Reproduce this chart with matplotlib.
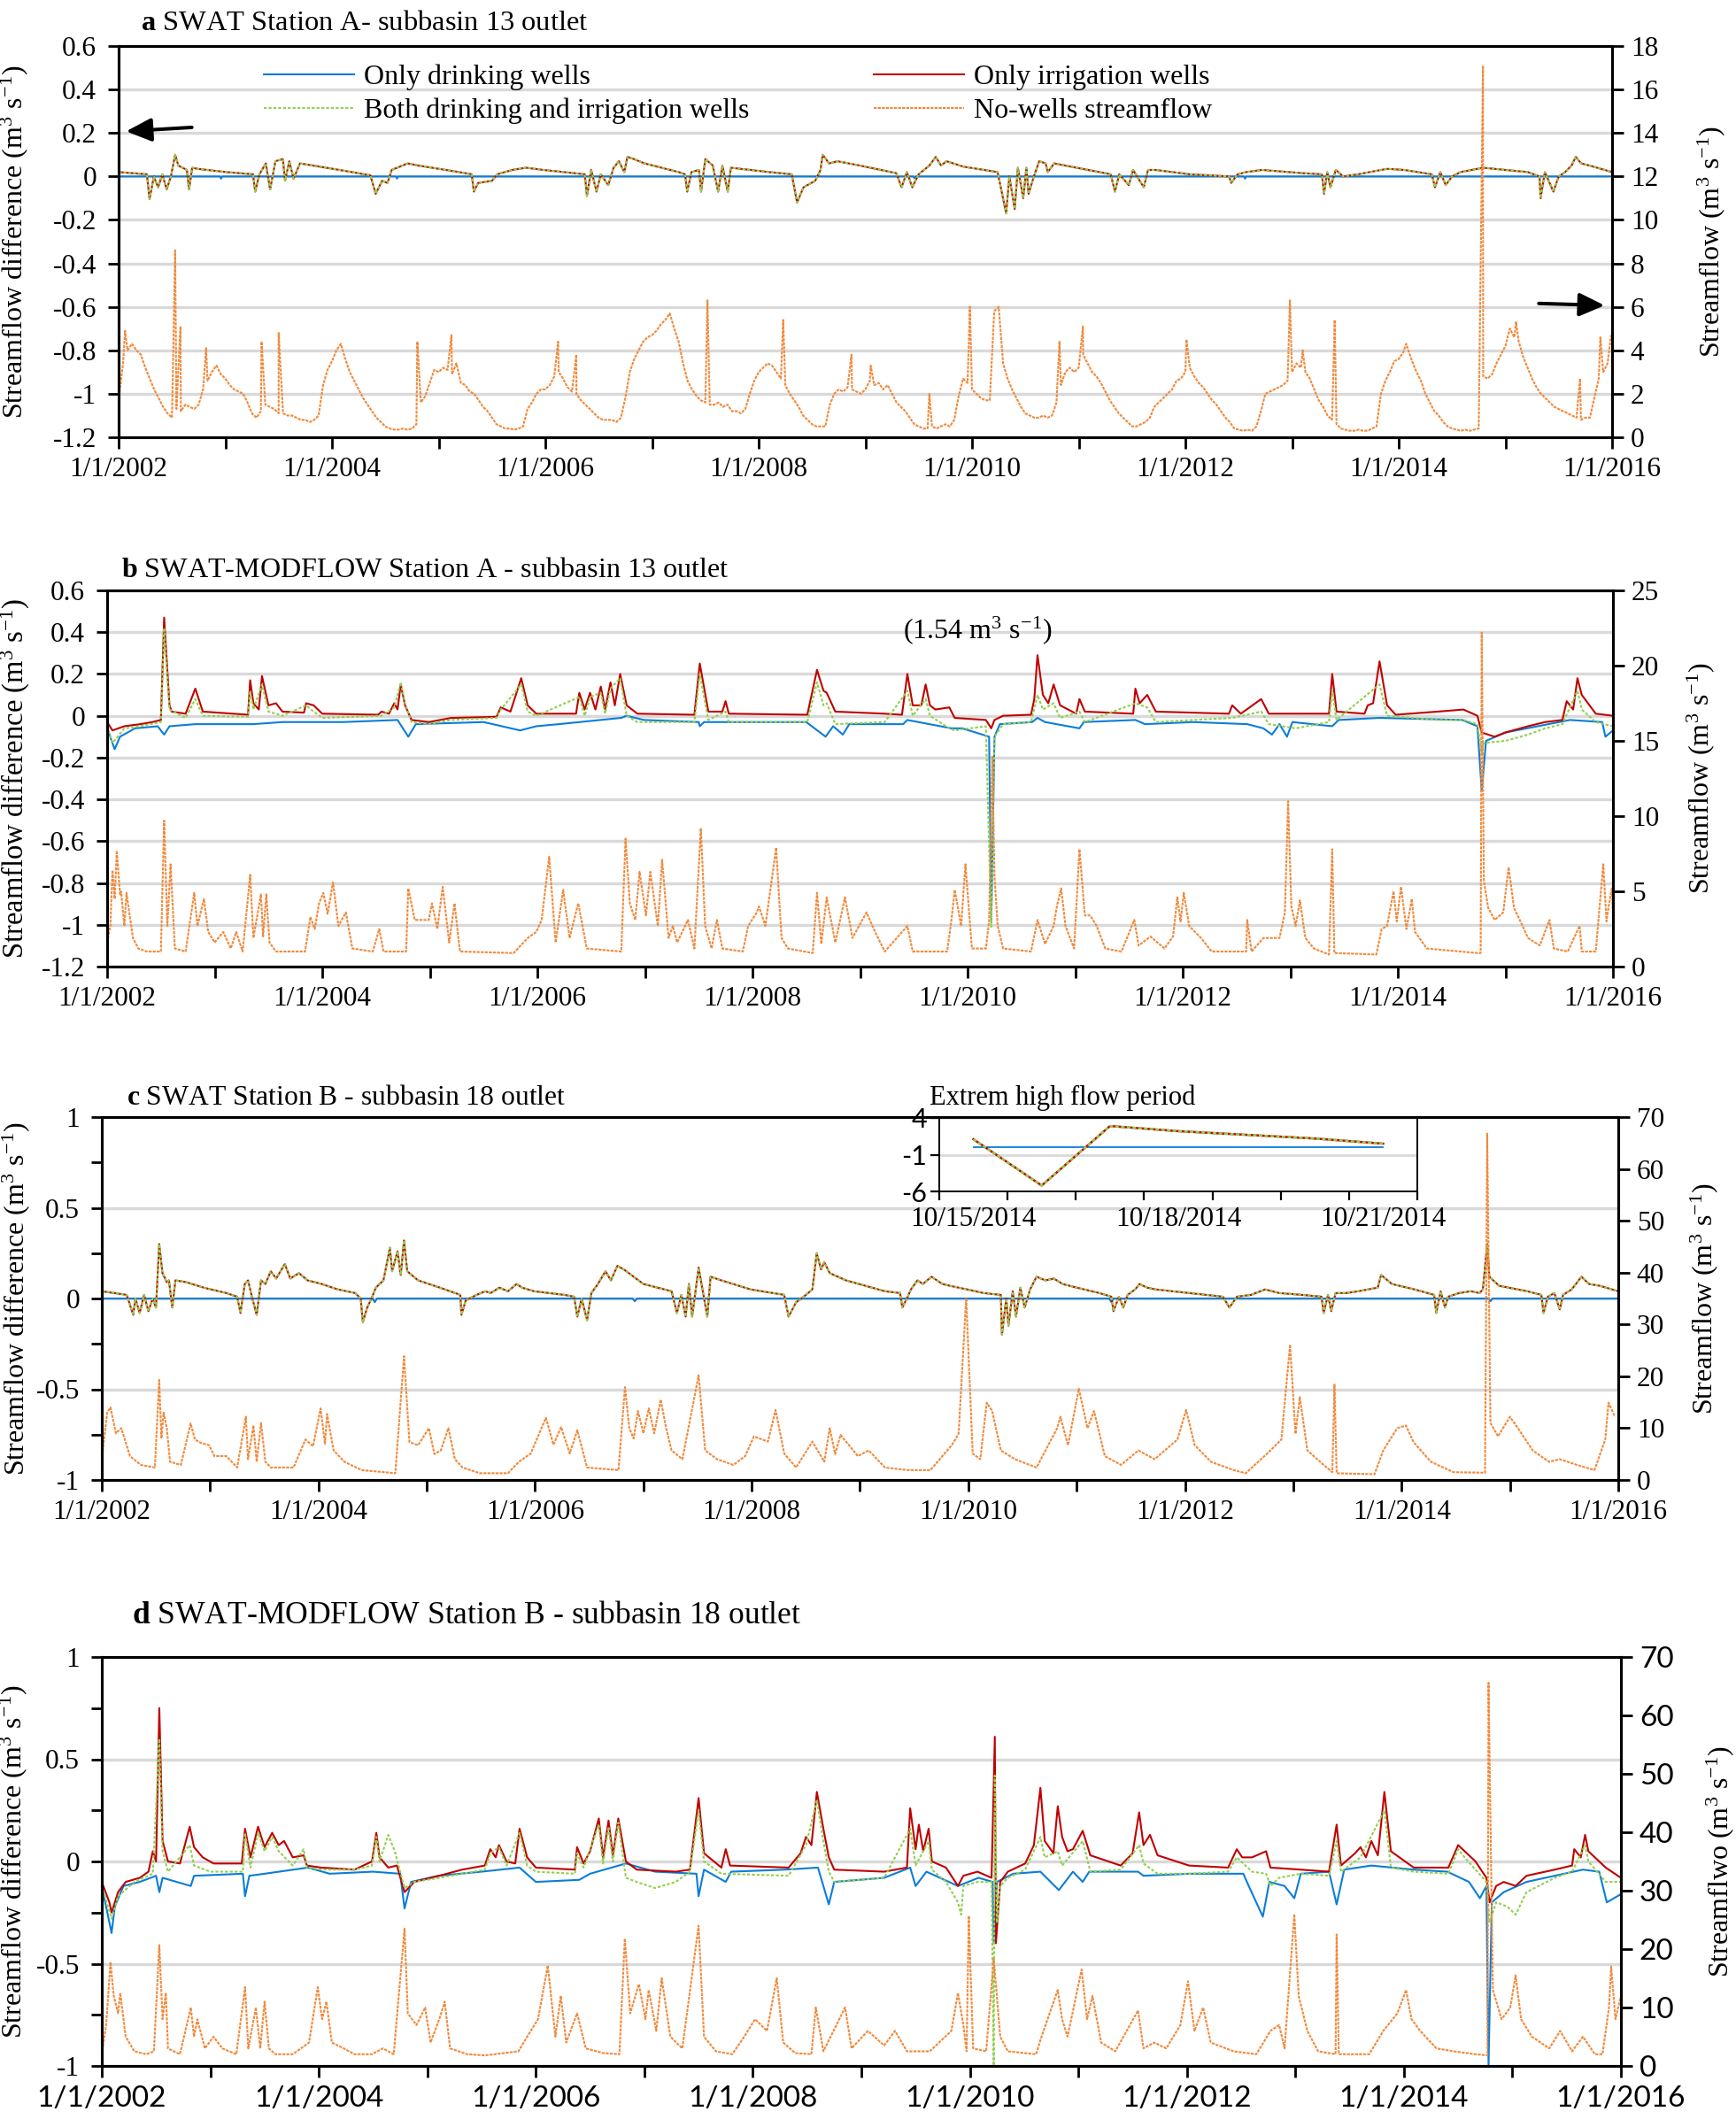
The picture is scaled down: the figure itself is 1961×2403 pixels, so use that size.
#!/usr/bin/env python3
# Streamflow differences caused by pumping wells, SWAT vs SWAT-MODFLOW, stations A and B
import numpy as np
import matplotlib
matplotlib.use('Agg')
from matplotlib import pyplot as plt
from matplotlib.ticker import MultipleLocator, FuncFormatter, FixedLocator, NullFormatter

SERIF = 'Liberation Serif'
SANS = 'Lato'
plt.rcParams['font.family'] = [SERIF, 'DejaVu Serif']
plt.rcParams['mathtext.fontset'] = 'custom'
plt.rcParams['mathtext.rm'] = SERIF
plt.rcParams['mathtext.it'] = SERIF + ':italic'
plt.rcParams['mathtext.bf'] = SERIF + ':bold'
plt.rcParams['axes.unicode_minus'] = False

C_DRINK = '#0B7DD8'
C_IRR = '#C00000'
C_BOTH = '#92D050'
C_FLOW = '#F08A3C'
GRID = '#D9D9D9'

labels = ['Only drinking wells', 'Both drinking and irrigation wells',
          'Only irrigation wells', 'No-wells streamflow']

# ---------------- panel a : SWAT station A ----------------
# no-wells streamflow, two values per month (1st and 16th), 2002..2015
flow_a_semimonthly = [
    1.7, 3.4, 4.0, 4.3, 4.0, 3.8, 3.2, 2.7, 2.2, 1.8, 1.4, 1.1, 0.9, 1.3, 1.2, 1.5, 1.4, 1.3, 1.5, 2.2, 2.6, 3.0, 3.3, 2.9,
    2.7, 2.4, 2.2, 2.1, 2.0, 1.6, 1.1, 0.9, 1.2, 1.5, 1.4, 1.3, 1.1, 1.1, 1.0, 1.0, 0.9, 0.8, 0.8, 0.7, 0.8, 1.0, 2.4, 3.1,
    3.5, 4.0, 4.3, 3.6, 3.0, 2.6, 2.2, 1.8, 1.5, 1.2, 0.9, 0.7, 0.5, 0.4, 0.35, 0.35, 0.4, 0.35, 0.4, 0.6, 1.6, 1.9, 2.5, 3.1,
    3.0, 3.2, 3.1, 2.9, 3.4, 2.5, 2.4, 2.1, 2.0, 1.7, 1.4, 1.2, 0.9, 0.6, 0.5, 0.4, 0.4, 0.35, 0.4, 0.5, 1.3, 1.6, 2.0, 2.2,
    2.2, 2.4, 2.8, 3.0, 2.7, 2.3, 2.1, 2.0, 1.7, 1.5, 1.3, 1.1, 0.9, 0.8, 0.8, 0.8, 0.7, 0.9, 1.8, 3.0, 3.6, 4.0, 4.4, 4.6,
    4.7, 4.9, 5.2, 5.4, 5.7, 5.0, 4.4, 3.4, 2.6, 2.2, 1.9, 1.7, 1.6, 1.5, 1.5, 1.6, 1.4, 1.5, 1.2, 1.2, 1.1, 1.3, 2.0, 2.6,
    3.0, 3.2, 3.4, 3.3, 3.0, 2.7, 2.4, 2.0, 1.7, 1.4, 1.0, 0.8, 0.6, 0.5, 0.5, 0.5, 1.5, 2.0, 2.2, 2.1, 2.3, 2.2, 2.1, 2.0,
    2.2, 2.6, 2.4, 2.5, 2.2, 2.4, 2.0, 1.6, 1.4, 1.2, 0.9, 0.6, 0.5, 0.4, 0.4, 0.5, 0.4, 0.5, 0.6, 0.5, 0.8, 1.9, 2.7, 2.5,
    2.2, 2.0, 1.8, 1.7, 1.7, 5.8, 6.0, 3.4, 2.7, 2.2, 1.8, 1.4, 1.1, 1.0, 0.9, 0.9, 1.0, 0.9, 1.0, 1.6, 2.4, 3.0, 3.2, 3.0,
    3.2, 3.8, 3.4, 3.0, 2.8, 2.5, 2.1, 1.7, 1.4, 1.1, 0.9, 0.7, 0.5, 0.5, 0.6, 0.7, 0.9, 1.4, 1.6, 1.8, 2.0, 2.2, 2.6, 2.7,
    3.0, 3.2, 2.8, 2.5, 2.3, 2.0, 1.7, 1.5, 1.2, 0.9, 0.7, 0.4, 0.35, 0.3, 0.35, 0.3, 0.5, 1.2, 2.0, 2.1, 2.2, 2.3, 2.4, 2.6,
    3.0, 3.4, 3.2, 3.0, 2.7, 2.2, 1.7, 1.4, 1.0, 0.8, 0.6, 0.4, 0.35, 0.3, 0.3, 0.35, 0.3, 0.3, 0.4, 0.5, 2.0, 2.6, 3.0, 3.5,
    3.6, 3.9, 4.1, 3.5, 3.0, 2.6, 2.0, 1.6, 1.2, 1.0, 0.7, 0.5, 0.4, 0.35, 0.3, 0.35, 0.3, 0.35, 0.4, 2.8, 2.7, 2.9, 3.4, 3.8,
    4.2, 5.0, 4.6, 4.4, 3.7, 3.2, 2.7, 2.3, 2.0, 1.8, 1.6, 1.4, 1.3, 1.2, 1.1, 1.0, 0.9, 0.8, 0.9, 0.9, 1.8, 2.7, 3.0, 3.4,
]
flow_a_peaks = [
    (2002.06, 4.9), (2002.53, 8.6), (2002.58, 5.1), (2002.82, 4.1), (2003.34, 4.4), (2003.50, 4.8),
    (2004.80, 4.4), (2005.12, 4.7), (2006.12, 4.4), (2006.29, 3.8), (2007.52, 6.3), (2008.23, 5.4),
    (2008.87, 3.8), (2009.05, 3.3), (2009.60, 2.0), (2009.98, 6.0), (2010.82, 4.4), (2011.04, 5.1),
    (2012.01, 4.5), (2012.98, 6.3), (2013.10, 4.0), (2013.40, 5.4), (2014.07, 4.3), (2014.79, 17.1),
    (2015.10, 5.3), (2015.70, 2.7), (2015.89, 4.6), (2015.99, 4.7),
]
irr_a = [
    (2002.00, 0.02), (2002.265, 0.01), (2002.29, -0.105), (2002.33, 0.0), (2002.37, -0.05), (2002.41, 0.01),
    (2002.45, -0.06), (2002.49, 0.0), (2002.53, 0.1), (2002.56, 0.05), (2002.64, 0.03), (2002.66, -0.06),
    (2002.69, 0.04), (2002.74, 0.035), (2003.01, 0.02), (2003.26, 0.01), (2003.28, -0.07), (2003.32, 0.01),
    (2003.38, 0.06), (2003.42, -0.06), (2003.47, 0.07), (2003.54, 0.08), (2003.56, -0.02), (2003.60, 0.07),
    (2003.64, -0.01), (2003.70, 0.06), (2004.07, 0.03), (2004.36, 0.005), (2004.41, -0.08), (2004.47, -0.02),
    (2004.52, -0.03), (2004.56, 0.03), (2004.71, 0.06), (2004.81, 0.05), (2005.13, 0.025), (2005.31, 0.01),
    (2005.33, -0.07), (2005.37, -0.03), (2005.50, -0.02), (2005.55, 0.01), (2005.69, 0.03), (2005.82, 0.04),
    (2005.98, 0.03), (2006.37, 0.01), (2006.39, -0.09), (2006.43, 0.03), (2006.48, -0.07), (2006.52, 0.01),
    (2006.59, -0.04), (2006.64, 0.04), (2006.69, 0.07), (2006.74, 0.02), (2006.77, 0.09), (2006.83, 0.08),
    (2006.93, 0.06), (2007.25, 0.02), (2007.31, 0.01), (2007.33, -0.07), (2007.37, 0.02), (2007.44, 0.03),
    (2007.46, -0.07), (2007.50, 0.08), (2007.57, 0.05), (2007.62, -0.07), (2007.66, 0.05), (2007.71, -0.07),
    (2007.74, 0.04), (2008.10, 0.02), (2008.31, 0.01), (2008.36, -0.12), (2008.42, -0.05), (2008.53, -0.02),
    (2008.58, 0.03), (2008.60, 0.1), (2008.66, 0.06), (2008.74, 0.07), (2008.95, 0.05), (2009.29, 0.015),
    (2009.34, -0.05), (2009.39, 0.02), (2009.44, -0.05), (2009.50, 0.01), (2009.60, 0.05), (2009.66, 0.09),
    (2009.71, 0.05), (2009.76, 0.07), (2009.92, 0.045), (2010.24, 0.02), (2010.32, -0.17), (2010.35, 0.0),
    (2010.40, -0.15), (2010.43, 0.04), (2010.48, -0.1), (2010.51, 0.04), (2010.53, -0.08), (2010.58, 0.0),
    (2010.63, 0.07), (2010.69, 0.06), (2010.71, 0.02), (2010.77, 0.06), (2010.98, 0.04), (2011.30, 0.01),
    (2011.34, -0.07), (2011.38, 0.01), (2011.47, -0.04), (2011.51, 0.03), (2011.61, -0.05), (2011.65, 0.03),
    (2011.72, 0.03), (2012.04, 0.01), (2012.41, 0.0), (2012.43, -0.03), (2012.49, 0.01), (2012.57, 0.02),
    (2012.72, 0.03), (2013.10, 0.015), (2013.28, 0.01), (2013.30, -0.08), (2013.33, 0.02), (2013.36, -0.05),
    (2013.41, 0.03), (2013.48, 0.0), (2013.62, 0.01), (2013.89, 0.035), (2014.05, 0.03), (2014.31, 0.01),
    (2014.34, -0.05), (2014.39, 0.02), (2014.44, -0.04), (2014.50, 0.0), (2014.58, 0.02), (2014.79, 0.04),
    (2015.21, 0.02), (2015.32, 0.0), (2015.33, -0.1), (2015.37, 0.02), (2015.45, -0.07), (2015.50, 0.0),
    (2015.56, 0.02), (2015.62, 0.05), (2015.66, 0.09), (2015.71, 0.06), (2015.79, 0.05), (2016.00, 0.02),
]
both_a = irr_a  # the two SWAT curves lie on top of each other
drink_a = [(2002.0, 0.0), (2002.95, 0.0), (2002.96, -0.01), (2002.97, 0.0), (2004.60, 0.0), (2004.61, -0.01),
           (2004.62, 0.0), (2009.45, 0.0), (2009.46, -0.008), (2009.47, 0.0), (2012.55, 0.0), (2012.56, -0.01),
           (2012.57, 0.0), (2016.0, 0.0)]

# ---------------- panel b : SWAT-MODFLOW station A ----------------
flow_b = [
    (2002.00, 1.6), (2002.03, 2.7), (2002.05, 6.4), (2002.07, 4.5), (2002.09, 7.7), (2002.12, 4.8), (2002.13, 5.0),
    (2002.16, 2.7), (2002.18, 4.9), (2002.24, 1.9), (2002.29, 1.2), (2002.37, 1.0), (2002.50, 1.0), (2002.53, 9.7),
    (2002.56, 2.7), (2002.59, 6.8), (2002.63, 1.2), (2002.73, 1.0), (2002.81, 4.9), (2002.84, 2.7), (2002.90, 4.5),
    (2002.94, 2.3), (2003.00, 1.6), (2003.08, 2.3), (2003.15, 1.2), (2003.20, 2.3), (2003.26, 1.0), (2003.33, 6.1),
    (2003.36, 1.9), (2003.43, 4.8), (2003.45, 2.0), (2003.48, 4.8), (2003.51, 1.6), (2003.57, 1.0), (2003.84, 1.0),
    (2003.89, 3.3), (2003.93, 2.5), (2003.97, 4.2), (2004.01, 4.9), (2004.05, 3.5), (2004.10, 5.6), (2004.15, 2.7),
    (2004.22, 3.6), (2004.28, 1.2), (2004.47, 1.0), (2004.53, 2.5), (2004.57, 1.0), (2004.78, 1.0), (2004.80, 5.2),
    (2004.86, 3.1), (2004.99, 3.1), (2005.02, 4.2), (2005.07, 2.5), (2005.12, 5.3), (2005.18, 1.6), (2005.23, 4.2),
    (2005.28, 1.0), (2005.78, 0.9), (2005.91, 1.9), (2005.99, 2.3), (2006.04, 3.1), (2006.11, 7.3), (2006.17, 1.6),
    (2006.24, 5.1), (2006.30, 1.9), (2006.38, 4.2), (2006.46, 1.2), (2006.78, 1.0), (2006.82, 8.5), (2006.86, 4.2),
    (2006.91, 3.1), (2006.95, 6.3), (2007.01, 3.4), (2007.05, 6.3), (2007.12, 2.7), (2007.16, 7.1), (2007.22, 1.9),
    (2007.26, 2.7), (2007.30, 1.6), (2007.40, 3.1), (2007.46, 1.2), (2007.52, 9.2), (2007.56, 2.7), (2007.62, 1.2),
    (2007.67, 3.1), (2007.72, 1.2), (2007.91, 1.0), (2007.96, 2.7), (2008.04, 3.6), (2008.06, 4.0), (2008.12, 2.7),
    (2008.22, 7.9), (2008.27, 1.9), (2008.33, 1.2), (2008.56, 0.9), (2008.60, 4.9), (2008.64, 1.5), (2008.69, 4.6),
    (2008.77, 1.6), (2008.86, 4.6), (2008.93, 1.9), (2009.06, 3.6), (2009.14, 2.3), (2009.23, 1.0), (2009.44, 2.7),
    (2009.49, 1.0), (2009.81, 1.0), (2009.85, 3.1), (2009.88, 5.1), (2009.94, 2.7), (2009.98, 6.8), (2010.04, 1.2),
    (2010.17, 1.2), (2010.20, 3.0), (2010.23, 14.0), (2010.25, 6.0), (2010.28, 2.7), (2010.33, 1.2), (2010.59, 1.0),
    (2010.65, 3.1), (2010.72, 1.5), (2010.80, 2.7), (2010.83, 4.0), (2010.87, 5.2), (2010.91, 2.7), (2010.99, 1.2),
    (2011.04, 7.8), (2011.09, 3.4), (2011.14, 3.4), (2011.20, 2.7), (2011.28, 1.2), (2011.43, 1.0), (2011.55, 3.1),
    (2011.59, 1.4), (2011.70, 2.0), (2011.83, 1.2), (2011.91, 2.0), (2011.95, 4.6), (2011.98, 3.0), (2012.01, 4.9),
    (2012.06, 2.7), (2012.17, 1.9), (2012.27, 1.0), (2012.59, 1.0), (2012.60, 3.1), (2012.64, 1.0), (2012.75, 1.9),
    (2012.90, 1.9), (2012.95, 3.6), (2012.98, 11.0), (2013.01, 4.0), (2013.05, 2.7), (2013.09, 4.4), (2013.14, 1.9),
    (2013.22, 1.2), (2013.36, 0.8), (2013.39, 7.8), (2013.41, 0.9), (2013.80, 0.8), (2013.85, 2.5), (2013.90, 2.7),
    (2013.96, 5.0), (2013.99, 3.0), (2014.03, 5.3), (2014.08, 2.5), (2014.13, 4.5), (2014.16, 2.3), (2014.27, 1.2),
    (2014.74, 0.9), (2014.77, 0.9), (2014.78, 22.2), (2014.80, 5.7), (2014.84, 3.9), (2014.90, 3.1), (2014.98, 3.6),
    (2015.03, 6.6), (2015.08, 3.9), (2015.16, 2.7), (2015.21, 1.9), (2015.32, 1.4), (2015.41, 3.1), (2015.45, 1.2),
    (2015.58, 1.0), (2015.69, 2.7), (2015.71, 1.0), (2015.84, 1.0), (2015.91, 6.8), (2015.94, 3.0), (2015.96, 4.0),
    (2015.99, 5.2), (2016.00, 3.5),
]
irr_b = [
    (2002.00, -0.03), (2002.05, -0.07), (2002.16, -0.05), (2002.31, -0.04), (2002.42, -0.03), (2002.50, -0.02),
    (2002.53, 0.47), (2002.58, 0.05), (2002.60, 0.02), (2002.73, 0.01), (2002.82, 0.13), (2002.89, 0.02),
    (2003.31, 0.005), (2003.33, 0.17), (2003.36, 0.06), (2003.41, 0.03), (2003.44, 0.19), (2003.50, 0.05),
    (2003.57, 0.06), (2003.63, 0.02), (2003.83, 0.015), (2003.85, 0.06), (2003.92, 0.05), (2004.00, 0.01),
    (2004.52, 0.005), (2004.55, 0.02), (2004.62, 0.01), (2004.67, 0.06), (2004.70, 0.03), (2004.73, 0.15),
    (2004.77, 0.05), (2004.83, -0.02), (2004.99, -0.03), (2005.20, -0.01), (2005.62, -0.005), (2005.66, 0.04),
    (2005.75, 0.02), (2005.85, 0.18), (2005.91, 0.05), (2005.99, 0.01), (2006.36, 0.01), (2006.39, 0.11),
    (2006.44, 0.03), (2006.49, 0.11), (2006.54, 0.03), (2006.59, 0.14), (2006.63, 0.03), (2006.68, 0.16),
    (2006.72, 0.05), (2006.77, 0.2), (2006.83, 0.05), (2006.93, 0.01), (2007.46, 0.005), (2007.51, 0.25),
    (2007.59, 0.02), (2007.72, 0.02), (2007.75, 0.07), (2007.78, 0.01), (2008.51, 0.005), (2008.60, 0.22),
    (2008.66, 0.12), (2008.69, 0.11), (2008.77, 0.02), (2009.23, 0.01), (2009.39, 0.005), (2009.44, 0.2),
    (2009.49, 0.05), (2009.57, 0.05), (2009.61, 0.15), (2009.65, 0.05), (2009.70, 0.03), (2009.83, 0.04),
    (2009.88, -0.01), (2010.17, -0.02), (2010.22, -0.06), (2010.25, -0.02), (2010.33, 0.0), (2010.59, 0.005),
    (2010.62, 0.08), (2010.65, 0.29), (2010.70, 0.1), (2010.75, 0.06), (2010.80, 0.15), (2010.86, 0.05),
    (2011.01, 0.01), (2011.04, 0.08), (2011.09, 0.02), (2011.54, 0.01), (2011.56, 0.13), (2011.60, 0.06),
    (2011.67, 0.1), (2011.75, 0.02), (2012.43, 0.01), (2012.46, 0.05), (2012.54, 0.01), (2012.73, 0.08),
    (2012.80, 0.01), (2013.36, 0.01), (2013.39, 0.2), (2013.43, 0.02), (2013.69, 0.01), (2013.72, 0.05),
    (2013.77, 0.06), (2013.83, 0.26), (2013.90, 0.05), (2013.98, 0.005), (2014.37, 0.02), (2014.61, 0.03),
    (2014.74, 0.0), (2014.78, -0.08), (2014.90, -0.1), (2015.00, -0.08), (2015.21, -0.05), (2015.37, -0.03),
    (2015.53, -0.02), (2015.57, 0.07), (2015.63, 0.03), (2015.67, 0.18), (2015.71, 0.1), (2015.84, 0.01),
    (2016.00, 0.0),
]
both_b = [
    (2002.00, -0.05), (2002.05, -0.13), (2002.16, -0.06), (2002.31, -0.05), (2002.50, -0.03), (2002.53, 0.42),
    (2002.58, 0.03), (2002.73, -0.01), (2002.82, 0.08), (2002.89, 0.0), (2003.31, -0.005), (2003.33, 0.12),
    (2003.36, 0.03), (2003.44, 0.15), (2003.50, 0.02), (2003.63, 0.0), (2003.85, 0.05), (2003.92, 0.02),
    (2004.00, -0.01), (2004.55, 0.0), (2004.67, 0.04), (2004.73, 0.16), (2004.77, 0.06), (2004.83, -0.03),
    (2004.99, -0.04), (2005.20, -0.02), (2005.62, -0.01), (2005.66, 0.03), (2005.85, 0.15), (2005.91, 0.02),
    (2005.99, 0.0), (2006.39, 0.09), (2006.44, 0.0), (2006.49, 0.09), (2006.59, 0.11), (2006.63, 0.01),
    (2006.68, 0.13), (2006.77, 0.18), (2006.83, 0.0), (2006.93, -0.03), (2007.46, -0.03), (2007.51, 0.2),
    (2007.59, -0.02), (2007.75, 0.02), (2007.78, -0.03), (2008.51, -0.03), (2008.60, 0.16), (2008.66, 0.05),
    (2008.69, 0.06), (2008.77, -0.04), (2009.23, -0.03), (2009.44, 0.12), (2009.49, 0.0), (2009.61, 0.08),
    (2009.65, 0.0), (2009.83, -0.06), (2009.88, -0.07), (2010.17, -0.05), (2010.22, -1.01), (2010.25, -0.1),
    (2010.33, -0.04), (2010.59, -0.03), (2010.65, 0.1), (2010.70, 0.03), (2010.80, 0.06), (2010.86, -0.01),
    (2011.04, 0.02), (2011.09, -0.03), (2011.56, 0.06), (2011.67, 0.04), (2011.75, -0.03), (2012.46, -0.01),
    (2012.73, 0.02), (2012.80, -0.04), (2013.05, -0.06), (2013.36, -0.03), (2013.39, 0.12), (2013.43, -0.02),
    (2013.83, 0.15), (2013.90, 0.0), (2014.37, -0.02), (2014.61, -0.02), (2014.74, -0.04), (2014.78, -0.18),
    (2014.80, -0.13), (2015.00, -0.12), (2015.21, -0.09), (2015.37, -0.06), (2015.53, -0.04), (2015.67, 0.12),
    (2015.71, 0.03), (2015.84, -0.03), (2016.00, -0.05),
]
drink_b = [
    (2002.00, -0.06), (2002.07, -0.16), (2002.12, -0.1), (2002.26, -0.06), (2002.47, -0.05), (2002.53, -0.09),
    (2002.58, -0.05), (2002.82, -0.04), (2003.36, -0.04), (2003.63, -0.03), (2004.20, -0.03), (2004.70, -0.02),
    (2004.80, -0.1), (2004.87, -0.04), (2005.50, -0.03), (2005.84, -0.07), (2005.99, -0.05), (2006.20, -0.04),
    (2006.78, -0.01), (2006.83, 0.0), (2006.99, -0.02), (2007.50, -0.03), (2007.51, -0.05), (2007.55, -0.03),
    (2008.50, -0.03), (2008.68, -0.1), (2008.75, -0.05), (2008.84, -0.09), (2008.90, -0.04), (2009.40, -0.04),
    (2009.44, -0.02), (2009.85, -0.06), (2009.95, -0.06), (2010.20, -0.1), (2010.22, -0.98), (2010.25, -0.1),
    (2010.30, -0.04), (2010.60, -0.03), (2010.65, -0.01), (2010.72, -0.03), (2011.04, -0.06), (2011.08, -0.03),
    (2011.56, -0.02), (2011.65, -0.04), (2012.10, -0.03), (2012.60, -0.04), (2012.75, -0.06), (2012.83, -0.09),
    (2012.90, -0.04), (2012.97, -0.1), (2013.02, -0.03), (2013.39, -0.05), (2013.45, -0.02), (2013.83, -0.01),
    (2014.60, -0.02), (2014.74, -0.05), (2014.78, -0.36), (2014.82, -0.12), (2015.00, -0.08), (2015.30, -0.05),
    (2015.60, -0.02), (2015.90, -0.03), (2015.93, -0.1), (2016.00, -0.07),
]

# ---------------- panel c : SWAT station B ----------------
flow_c = [
    (2002.00, 4.0), (2002.05, 13.0), (2002.08, 14.0), (2002.13, 9.0), (2002.18, 10.0), (2002.26, 4.6),
    (2002.36, 2.9), (2002.49, 2.4), (2002.53, 19.3), (2002.55, 8.0), (2002.57, 13.0), (2002.60, 10.0),
    (2002.63, 3.5), (2002.73, 2.9), (2002.82, 10.9), (2002.86, 7.8), (2002.91, 7.2), (2002.99, 6.7),
    (2003.04, 4.6), (2003.15, 4.6), (2003.25, 2.4), (2003.33, 12.2), (2003.35, 4.0), (2003.40, 10.5),
    (2003.43, 3.5), (2003.47, 11.0), (2003.51, 3.5), (2003.56, 2.4), (2003.77, 2.4), (2003.88, 7.8),
    (2003.95, 6.5), (2004.02, 13.8), (2004.06, 7.0), (2004.08, 12.7), (2004.14, 5.7), (2004.24, 3.5),
    (2004.40, 1.9), (2004.71, 1.3), (2004.79, 23.9), (2004.84, 7.3), (2004.92, 6.7), (2005.02, 10.0),
    (2005.07, 5.0), (2005.13, 5.7), (2005.20, 10.0), (2005.26, 4.0), (2005.33, 2.4), (2005.49, 1.3),
    (2005.75, 1.3), (2005.85, 3.5), (2005.96, 5.1), (2006.10, 12.0), (2006.17, 6.8), (2006.24, 10.2),
    (2006.32, 5.1), (2006.39, 9.6), (2006.48, 2.4), (2006.77, 1.9), (2006.83, 17.9), (2006.87, 10.0),
    (2006.91, 8.0), (2006.95, 13.3), (2007.00, 9.0), (2007.05, 13.8), (2007.10, 9.0), (2007.16, 15.5),
    (2007.21, 10.0), (2007.26, 5.7), (2007.36, 4.0), (2007.51, 20.2), (2007.57, 5.7), (2007.68, 4.0),
    (2007.83, 2.9), (2007.94, 4.6), (2008.02, 8.4), (2008.15, 7.4), (2008.22, 13.5), (2008.30, 5.1),
    (2008.41, 2.4), (2008.56, 7.4), (2008.67, 3.5), (2008.72, 10.0), (2008.77, 5.0), (2008.82, 8.7),
    (2008.98, 4.6), (2009.08, 5.7), (2009.23, 2.4), (2009.44, 1.9), (2009.65, 1.9), (2009.85, 6.8),
    (2009.91, 8.9), (2009.98, 35.1), (2010.04, 5.1), (2010.11, 4.0), (2010.17, 14.9), (2010.22, 13.3),
    (2010.30, 5.7), (2010.43, 4.0), (2010.63, 2.4), (2010.82, 10.0), (2010.85, 12.2), (2010.92, 6.7),
    (2011.02, 17.6), (2011.10, 10.0), (2011.16, 13.3), (2011.26, 4.6), (2011.41, 2.9), (2011.57, 5.7),
    (2011.72, 4.0), (2011.93, 7.8), (2012.01, 13.5), (2012.09, 6.7), (2012.24, 3.5), (2012.45, 1.9),
    (2012.56, 1.3), (2012.76, 5.1), (2012.89, 7.8), (2012.97, 26.1), (2013.02, 8.9), (2013.06, 16.0),
    (2013.13, 5.7), (2013.28, 2.9), (2013.36, 1.5), (2013.38, 18.4), (2013.40, 1.3), (2013.75, 1.1),
    (2013.83, 5.7), (2013.96, 10.0), (2014.04, 10.5), (2014.11, 7.3), (2014.27, 3.5), (2014.48, 1.5),
    (2014.77, 1.4), (2014.79, 66.8), (2014.82, 11.0), (2014.89, 8.4), (2015.00, 12.2), (2015.08, 9.8),
    (2015.21, 5.7), (2015.36, 3.5), (2015.46, 4.0), (2015.62, 2.9), (2015.78, 1.9), (2015.88, 7.8),
    (2015.91, 14.9), (2015.97, 12.2),
]
irr_c = [
    (2002.00, 0.04), (2002.23, 0.02), (2002.29, -0.09), (2002.31, 0.0), (2002.35, -0.08), (2002.39, 0.02),
    (2002.43, -0.07), (2002.47, 0.0), (2002.50, -0.05), (2002.53, 0.3), (2002.56, 0.14), (2002.60, 0.09),
    (2002.62, 0.1), (2002.65, -0.05), (2002.68, 0.1), (2002.78, 0.09), (2002.94, 0.06), (2003.15, 0.03),
    (2003.25, 0.01), (2003.28, -0.08), (2003.32, 0.08), (2003.35, 0.1), (2003.39, 0.0), (2003.43, -0.09),
    (2003.47, 0.1), (2003.51, 0.08), (2003.56, 0.15), (2003.61, 0.11), (2003.69, 0.19), (2003.74, 0.11),
    (2003.82, 0.14), (2003.90, 0.1), (2004.03, 0.08), (2004.18, 0.05), (2004.34, 0.03), (2004.39, 0.0),
    (2004.41, -0.13), (2004.45, -0.05), (2004.49, 0.0), (2004.53, 0.06), (2004.60, 0.1), (2004.66, 0.28),
    (2004.68, 0.15), (2004.73, 0.26), (2004.76, 0.13), (2004.79, 0.32), (2004.82, 0.15), (2004.92, 0.1),
    (2005.12, 0.06), (2005.31, 0.02), (2005.32, -0.09), (2005.36, -0.01), (2005.46, 0.02), (2005.54, 0.04),
    (2005.59, 0.03), (2005.67, 0.06), (2005.75, 0.04), (2005.83, 0.08), (2005.88, 0.06), (2005.99, 0.04),
    (2006.27, 0.02), (2006.36, 0.01), (2006.39, -0.1), (2006.43, 0.0), (2006.48, -0.12), (2006.52, 0.03),
    (2006.58, 0.08), (2006.65, 0.15), (2006.70, 0.1), (2006.76, 0.18), (2006.82, 0.16), (2007.00, 0.08),
    (2007.26, 0.04), (2007.31, -0.08), (2007.35, 0.02), (2007.39, -0.1), (2007.42, 0.08), (2007.45, -0.1),
    (2007.51, 0.17), (2007.59, -0.1), (2007.62, 0.12), (2007.72, 0.1), (2007.99, 0.05), (2008.30, 0.02),
    (2008.34, -0.1), (2008.41, -0.02), (2008.46, 0.0), (2008.56, 0.05), (2008.60, 0.25), (2008.64, 0.16),
    (2008.67, 0.2), (2008.72, 0.14), (2008.87, 0.1), (2009.23, 0.04), (2009.37, 0.03), (2009.39, -0.05),
    (2009.44, 0.01), (2009.47, 0.05), (2009.53, 0.1), (2009.58, 0.08), (2009.66, 0.12), (2009.71, 0.1),
    (2009.76, 0.08), (2009.83, 0.07), (2009.99, 0.05), (2010.14, 0.03), (2010.30, 0.02), (2010.31, -0.2),
    (2010.35, 0.0), (2010.37, -0.15), (2010.41, 0.04), (2010.44, -0.1), (2010.48, 0.06), (2010.52, -0.05),
    (2010.57, 0.05), (2010.63, 0.12), (2010.71, 0.1), (2010.79, 0.11), (2010.87, 0.08), (2011.00, 0.06),
    (2011.21, 0.03), (2011.32, 0.01), (2011.34, -0.07), (2011.39, 0.01), (2011.43, -0.05), (2011.47, 0.02),
    (2011.54, 0.05), (2011.58, 0.08), (2011.65, 0.06), (2011.73, 0.05), (2012.04, 0.03), (2012.35, 0.01),
    (2012.41, -0.05), (2012.48, 0.01), (2012.61, 0.02), (2012.74, 0.05), (2012.87, 0.03), (2013.08, 0.02),
    (2013.26, 0.01), (2013.28, -0.08), (2013.32, 0.02), (2013.35, -0.07), (2013.39, 0.03), (2013.49, 0.03),
    (2013.60, 0.04), (2013.78, 0.06), (2013.81, 0.13), (2013.91, 0.08), (2014.12, 0.05), (2014.30, 0.02),
    (2014.32, -0.08), (2014.36, 0.04), (2014.40, -0.05), (2014.43, 0.01), (2014.53, 0.03), (2014.64, 0.04),
    (2014.72, 0.03), (2014.75, 0.05), (2014.79, 0.3), (2014.81, 0.12), (2014.90, 0.07), (2015.16, 0.04),
    (2015.29, 0.02), (2015.31, -0.08), (2015.35, 0.01), (2015.41, 0.03), (2015.46, -0.06), (2015.49, 0.02),
    (2015.57, 0.05), (2015.66, 0.12), (2015.73, 0.08), (2015.83, 0.07), (2016.00, 0.04),
]
both_c = irr_c  # the two SWAT curves lie on top of each other
drink_c = [(2002.0, 0.0), (2004.50, 0.0), (2004.52, -0.02), (2004.54, 0.0), (2006.90, 0.0), (2006.92, -0.015),
           (2006.94, 0.0), (2011.30, 0.0), (2011.32, -0.02), (2011.34, 0.0), (2014.80, 0.0), (2014.82, -0.015),
           (2014.84, 0.0), (2016.0, 0.0)]

# inset of panel c: one slot per day, 10/15/2014 .. 10/21/2014
inset_days = ['10/15/2014', '10/16/2014', '10/17/2014', '10/18/2014', '10/19/2014', '10/20/2014', '10/21/2014']
inset_irr = [1.1, -5.2, 2.9, 2.2, 1.7, 1.2, 0.5]
inset_drink = [0.0, 0.0, 0.0, 0.0, 0.0, 0.0, 0.0]

# ---------------- panel d : SWAT-MODFLOW station B ----------------
flow_d = [
    (2002.00, 2.0), (2002.04, 7.0), (2002.08, 17.8), (2002.11, 12.0), (2002.15, 9.0), (2002.17, 12.5),
    (2002.22, 5.0), (2002.30, 2.5), (2002.41, 2.0), (2002.48, 2.5), (2002.53, 20.7), (2002.56, 8.0),
    (2002.59, 12.5), (2002.61, 3.0), (2002.72, 2.0), (2002.82, 10.0), (2002.85, 5.0), (2002.88, 8.0),
    (2002.95, 3.0), (2003.03, 5.0), (2003.11, 3.0), (2003.24, 2.0), (2003.32, 13.5), (2003.35, 3.0),
    (2003.42, 10.0), (2003.46, 3.0), (2003.50, 11.0), (2003.54, 3.0), (2003.60, 2.0), (2003.76, 2.0),
    (2003.91, 4.0), (2003.99, 13.5), (2004.03, 8.0), (2004.07, 11.0), (2004.12, 4.0), (2004.23, 3.0),
    (2004.33, 2.0), (2004.49, 2.0), (2004.59, 3.0), (2004.69, 2.0), (2004.79, 23.5), (2004.82, 9.0),
    (2004.90, 7.0), (2004.98, 10.0), (2005.03, 4.0), (2005.11, 8.0), (2005.16, 11.0), (2005.21, 3.0),
    (2005.37, 2.0), (2005.53, 1.8), (2005.84, 2.5), (2005.92, 5.0), (2006.02, 8.0), (2006.11, 17.2),
    (2006.18, 5.0), (2006.23, 12.0), (2006.28, 4.0), (2006.38, 9.0), (2006.46, 3.0), (2006.62, 2.2),
    (2006.77, 2.0), (2006.82, 21.8), (2006.87, 9.0), (2006.95, 14.0), (2007.01, 8.0), (2007.04, 13.0),
    (2007.11, 6.0), (2007.16, 15.0), (2007.24, 5.0), (2007.35, 3.0), (2007.50, 24.0), (2007.55, 5.0),
    (2007.66, 2.5), (2007.81, 2.0), (2007.92, 5.0), (2008.02, 8.0), (2008.13, 6.0), (2008.22, 15.0),
    (2008.28, 4.0), (2008.39, 2.2), (2008.54, 2.0), (2008.58, 10.0), (2008.65, 2.5), (2008.85, 10.0),
    (2008.91, 3.0), (2009.06, 6.0), (2009.21, 3.5), (2009.31, 6.0), (2009.42, 2.5), (2009.63, 2.5),
    (2009.83, 6.0), (2009.89, 12.5), (2009.94, 7.0), (2009.97, 2.5), (2009.99, 25.7), (2010.03, 3.0),
    (2010.15, 2.5), (2010.22, 18.3), (2010.28, 5.0), (2010.35, 2.5), (2010.61, 2.0), (2010.66, 5.0),
    (2010.81, 13.0), (2010.85, 8.0), (2010.90, 5.0), (2011.03, 16.5), (2011.08, 8.0), (2011.13, 12.0),
    (2011.21, 4.0), (2011.34, 2.5), (2011.55, 9.5), (2011.60, 3.0), (2011.70, 4.0), (2011.81, 3.0),
    (2011.94, 7.0), (2012.01, 14.5), (2012.07, 6.0), (2012.15, 10.0), (2012.22, 4.0), (2012.43, 2.5),
    (2012.64, 2.0), (2012.77, 6.0), (2012.85, 7.0), (2012.90, 3.0), (2012.99, 26.0), (2013.03, 12.0),
    (2013.11, 6.0), (2013.21, 2.5), (2013.37, 2.0), (2013.38, 22.5), (2013.40, 2.0), (2013.68, 2.0),
    (2013.81, 6.0), (2013.94, 9.0), (2014.02, 13.0), (2014.07, 8.0), (2014.15, 6.0), (2014.30, 3.0),
    (2014.46, 2.5), (2014.66, 2.0), (2014.77, 1.8), (2014.78, 65.6), (2014.82, 13.0), (2014.90, 8.0),
    (2014.98, 10.0), (2015.03, 15.5), (2015.08, 8.0), (2015.18, 5.0), (2015.34, 3.0), (2015.44, 6.0),
    (2015.55, 2.5), (2015.65, 5.0), (2015.76, 2.0), (2015.83, 2.0), (2015.89, 10.0), (2015.91, 17.0),
    (2015.95, 8.0), (2016.00, 12.0),
]
irr_d = [
    (2002.00, -0.1), (2002.07, -0.2), (2002.09, -0.25), (2002.15, -0.15), (2002.22, -0.1), (2002.35, -0.08),
    (2002.43, -0.05), (2002.47, 0.05), (2002.50, 0.0), (2002.53, 0.75), (2002.56, 0.1), (2002.61, 0.0),
    (2002.72, -0.01), (2002.81, 0.17), (2002.85, 0.07), (2002.93, 0.02), (2003.03, -0.01), (2003.29, -0.01),
    (2003.32, 0.16), (2003.37, 0.02), (2003.44, 0.17), (2003.50, 0.07), (2003.57, 0.14), (2003.63, 0.08),
    (2003.68, 0.1), (2003.76, 0.02), (2003.86, 0.03), (2003.89, -0.02), (2004.02, -0.03), (2004.33, -0.04),
    (2004.49, 0.0), (2004.53, 0.14), (2004.56, 0.02), (2004.64, -0.03), (2004.72, -0.02), (2004.79, -0.15),
    (2004.88, -0.1), (2005.11, -0.07), (2005.32, -0.04), (2005.53, -0.02), (2005.58, 0.06), (2005.63, 0.02),
    (2005.66, 0.08), (2005.73, 0.0), (2005.81, -0.01), (2005.85, 0.16), (2005.92, 0.02), (2006.00, -0.03),
    (2006.36, -0.04), (2006.38, 0.07), (2006.44, -0.01), (2006.50, 0.05), (2006.58, 0.21), (2006.62, 0.02),
    (2006.67, 0.2), (2006.71, 0.03), (2006.76, 0.21), (2006.83, 0.0), (2006.93, -0.04), (2007.29, -0.05),
    (2007.42, -0.04), (2007.50, 0.31), (2007.55, 0.04), (2007.71, -0.03), (2007.75, 0.06), (2007.79, -0.02),
    (2008.33, -0.03), (2008.44, 0.04), (2008.49, 0.12), (2008.54, 0.08), (2008.59, 0.34), (2008.65, 0.16),
    (2008.70, 0.02), (2008.75, -0.04), (2009.21, -0.05), (2009.42, -0.03), (2009.45, 0.26), (2009.50, 0.06),
    (2009.53, 0.18), (2009.57, 0.05), (2009.62, 0.16), (2009.65, 0.0), (2009.78, -0.03), (2009.89, -0.12),
    (2009.94, -0.07), (2010.07, -0.05), (2010.20, -0.08), (2010.23, 0.61), (2010.24, -0.4), (2010.28, -0.1),
    (2010.35, -0.05), (2010.51, -0.01), (2010.59, 0.08), (2010.65, 0.36), (2010.69, 0.1), (2010.77, 0.04),
    (2010.81, 0.27), (2010.85, 0.12), (2010.90, 0.05), (2010.95, 0.06), (2011.04, 0.15), (2011.11, 0.03),
    (2011.39, -0.02), (2011.50, 0.04), (2011.56, 0.24), (2011.60, 0.08), (2011.66, 0.13), (2011.73, 0.03),
    (2012.02, -0.02), (2012.38, -0.03), (2012.46, 0.06), (2012.51, 0.02), (2012.60, 0.02), (2012.73, 0.05),
    (2012.77, -0.03), (2013.05, -0.04), (2013.31, -0.05), (2013.38, 0.18), (2013.42, -0.02), (2013.55, 0.04),
    (2013.60, 0.07), (2013.65, 0.02), (2013.70, 0.1), (2013.76, 0.03), (2013.82, 0.34), (2013.88, 0.05),
    (2014.09, -0.03), (2014.41, -0.03), (2014.50, 0.08), (2014.56, 0.05), (2014.66, 0.0), (2014.76, -0.08),
    (2014.79, -0.2), (2014.85, -0.12), (2014.92, -0.1), (2015.03, -0.12), (2015.13, -0.07), (2015.39, -0.04),
    (2015.55, -0.02), (2015.57, 0.06), (2015.63, 0.02), (2015.67, 0.13), (2015.70, 0.05), (2015.86, -0.03),
    (2016.00, -0.08),
]
both_d = [
    (2002.00, -0.12), (2002.09, -0.28), (2002.15, -0.17), (2002.30, -0.1), (2002.47, -0.06), (2002.53, 0.6),
    (2002.56, 0.05), (2002.61, -0.05), (2002.81, 0.08), (2002.85, -0.02), (2003.00, -0.05), (2003.30, -0.05),
    (2003.32, 0.14), (2003.37, -0.03), (2003.44, 0.14), (2003.50, 0.05), (2003.57, 0.12), (2003.63, 0.05),
    (2003.76, -0.02), (2003.86, 0.06), (2003.89, -0.03), (2004.02, -0.04), (2004.33, -0.04), (2004.49, -0.02),
    (2004.53, 0.12), (2004.56, 0.0), (2004.64, 0.13), (2004.70, 0.05), (2004.79, -0.13), (2004.88, -0.1),
    (2005.11, -0.08), (2005.32, -0.06), (2005.53, -0.04), (2005.58, 0.04), (2005.66, 0.07), (2005.73, -0.02),
    (2005.85, 0.14), (2005.92, -0.02), (2006.00, -0.05), (2006.36, -0.06), (2006.38, 0.04), (2006.44, -0.03),
    (2006.58, 0.18), (2006.62, -0.01), (2006.67, 0.17), (2006.71, 0.0), (2006.76, 0.19), (2006.83, -0.08),
    (2006.93, -0.1), (2007.10, -0.13), (2007.29, -0.1), (2007.42, -0.05), (2007.50, 0.25), (2007.55, 0.0),
    (2007.71, -0.06), (2008.33, -0.07), (2008.49, 0.08), (2008.59, 0.3), (2008.65, 0.1), (2008.70, -0.05),
    (2008.75, -0.1), (2009.21, -0.08), (2009.45, 0.16), (2009.50, -0.02), (2009.62, 0.1), (2009.65, -0.04),
    (2009.78, -0.1), (2009.89, -0.2), (2009.92, -0.26), (2009.94, -0.12), (2010.07, -0.1), (2010.20, -0.1),
    (2010.22, -1.0), (2010.23, 0.42), (2010.25, -0.3), (2010.28, -0.12), (2010.35, -0.08), (2010.51, -0.04),
    (2010.65, 0.12), (2010.69, 0.02), (2010.81, 0.05), (2010.85, -0.02), (2011.04, 0.1), (2011.11, -0.05),
    (2011.39, -0.04), (2011.56, 0.08), (2011.60, -0.01), (2011.73, -0.06), (2012.02, -0.06), (2012.38, -0.05),
    (2012.46, 0.02), (2012.60, -0.05), (2012.73, -0.06), (2012.77, -0.12), (2012.85, -0.08), (2013.05, -0.06),
    (2013.31, -0.07), (2013.38, 0.1), (2013.42, -0.05), (2013.60, 0.02), (2013.82, 0.25), (2013.88, -0.03),
    (2014.09, -0.05), (2014.41, -0.06), (2014.50, 0.06), (2014.56, 0.02), (2014.66, -0.04), (2014.76, -0.1),
    (2014.79, -0.3), (2014.85, -0.2), (2014.95, -0.22), (2015.03, -0.26), (2015.13, -0.15), (2015.39, -0.08),
    (2015.55, -0.05), (2015.67, 0.08), (2015.70, 0.0), (2015.86, -0.1), (2016.00, -0.1),
]
drink_d = [
    (2002.00, -0.12), (2002.09, -0.35), (2002.12, -0.22), (2002.20, -0.12), (2002.35, -0.1), (2002.50, -0.07),
    (2002.53, -0.15), (2002.56, -0.08), (2002.82, -0.12), (2002.85, -0.07), (2003.30, -0.06), (2003.32, -0.17),
    (2003.36, -0.07), (2003.50, -0.06), (2003.90, -0.03), (2004.10, -0.06), (2004.50, -0.05), (2004.75, -0.06),
    (2004.79, -0.23), (2004.85, -0.1), (2005.10, -0.07), (2005.50, -0.05), (2005.85, -0.03), (2006.00, -0.1),
    (2006.40, -0.09), (2006.50, -0.06), (2006.83, -0.01), (2007.10, -0.05), (2007.48, -0.06), (2007.50, -0.17),
    (2007.55, -0.04), (2007.75, -0.1), (2007.80, -0.05), (2008.30, -0.04), (2008.60, -0.03), (2008.70, -0.21),
    (2008.75, -0.1), (2009.21, -0.08), (2009.45, -0.03), (2009.50, -0.12), (2009.60, -0.05), (2009.89, -0.12),
    (2010.08, -0.08), (2010.21, -0.1), (2010.22, -0.4), (2010.25, -0.1), (2010.40, -0.06), (2010.65, -0.05),
    (2010.82, -0.14), (2010.95, -0.05), (2011.04, -0.1), (2011.10, -0.05), (2011.55, -0.05), (2011.60, -0.07),
    (2012.02, -0.06), (2012.52, -0.06), (2012.57, -0.12), (2012.70, -0.27), (2012.76, -0.1), (2012.90, -0.12),
    (2012.99, -0.18), (2013.05, -0.06), (2013.31, -0.05), (2013.38, -0.21), (2013.45, -0.04), (2013.70, -0.02),
    (2014.09, -0.04), (2014.40, -0.05), (2014.60, -0.1), (2014.70, -0.18), (2014.76, -0.12), (2014.78, -1.0),
    (2014.81, -0.2), (2014.92, -0.15), (2015.13, -0.1), (2015.39, -0.07), (2015.65, -0.04), (2015.80, -0.05),
    (2015.87, -0.2), (2016.00, -0.16),
]


def pairs(p):
    a = np.array(p, dtype=float)
    order = np.argsort(a[:, 0], kind='stable')
    return a[order, 0], a[order, 1]


def excel_num(v, pos):
    return '%g' % (round(v, 2) + 0.0)


W, H = 1961, 2403
fig = plt.figure(figsize=(W / 100, H / 100), dpi=100)


def rect(left, top, right, bottom):
    return [left / W, 1 - bottom / H, (right - left) / W, (bottom - top) / H]


def make_panel(box, ylim, ystep, yminor, ylim2, ystep2, sans=False):
    ax = fig.add_axes(box)
    ax.set_xlim(2002, 2016)
    ax.set_ylim(*ylim)
    ax.yaxis.set_major_locator(MultipleLocator(ystep))
    if yminor:
        ax.yaxis.set_minor_locator(MultipleLocator(yminor))
    ax.yaxis.set_major_formatter(FuncFormatter(excel_num))
    years = list(range(2002, 2017))
    ax.set_xticks(years)
    ax.set_xticklabels(['1/1/%d' % y if y % 2 == 0 else '' for y in years])
    ax.grid(axis='y', which='major', color=GRID, lw=2.4)
    ax.set_axisbelow(True)
    ax.tick_params(axis='both', which='both', direction='out', width=2, length=9, labelsize=22.5)
    ax.tick_params(axis='x', pad=7)
    ax.tick_params(axis='y', pad=9)
    ax2 = ax.twinx()
    ax2.set_ylim(*ylim2)
    ax2.yaxis.set_major_locator(MultipleLocator(ystep2))
    ax2.yaxis.set_major_formatter(FuncFormatter(excel_num))
    ax2.tick_params(axis='y', direction='out', width=2, length=9, labelsize=22.5, pad=6)
    if sans:
        ax.tick_params(axis='x', labelfontfamily=SANS, labelsize=24)
        ax2.tick_params(axis='y', labelfontfamily=SANS, labelsize=24)
    for a in (ax, ax2):
        for s in a.spines.values():
            s.set_linewidth(2.2)
            s.set_color('black')
    return ax, ax2


def draw(ax, ax2, drink, irr, both, flow_t, flow_v):
    h1, = ax.plot(*pairs(drink), color=C_DRINK, lw=1.5)
    h3, = ax.plot(*pairs(irr), color=C_IRR, lw=1.5)
    h2, = ax.plot(*pairs(both), color=C_BOTH, lw=1.5, ls=(0, (1.6, 1.0)))
    h4, = ax2.plot(flow_t, flow_v, color=C_FLOW, lw=1.5, ls=(0, (1.6, 0.6)))
    return [h1, h2, h3, h4]


ylab = 'Streamflow difference (m$^3$ s$^{-1}$)'
ylab2 = 'Streamflow (m$^3$ s$^{-1}$)'
arrow = dict(arrowstyle='-|>,head_length=0.87,head_width=0.4', color='black', lw=2.9,
             mutation_scale=20, shrinkA=0, shrinkB=0)

# ---- a ----
ax, ax2 = make_panel(rect(134, 52, 1821, 494), (-1.2, 0.6), 0.2, None, (0, 18), 2)
t_semi = 2002 + np.arange(len(flow_a_semimonthly)) / 24.0
pk_t, pk_v = pairs(flow_a_peaks)
fa_t = np.concatenate([t_semi, pk_t])
fa_v = np.concatenate([flow_a_semimonthly, pk_v])
order = np.argsort(fa_t, kind='stable')
handles = draw(ax, ax2, drink_a, irr_a, both_a, fa_t[order], fa_v[order])
ax2.legend(handles, labels, ncol=2, loc='upper left', bbox_to_anchor=(0.097, 0.953), frameon=False,
           fontsize=23, handlelength=3.2, handletextpad=0.35, columnspacing=4.4, labelspacing=0.27,
           borderpad=0, borderaxespad=0)
ax.set_ylabel(ylab, fontsize=23)
ax.yaxis.set_label_coords(-0.059, 0.5)
ax2.set_ylabel(ylab2, fontsize=23)
ax2.yaxis.set_label_coords(1.056, 0.5)
ax2.annotate('', xy=(0.005, 0.782), xytext=(0.049, 0.792), xycoords='axes fraction', arrowprops=arrow)
ax2.annotate('', xy=(0.995, 0.337), xytext=(0.951, 0.342), xycoords='axes fraction', arrowprops=arrow)
fig.text(159 / W, 1 - 26 / H, r'$\mathbf{a}$ SWAT Station A- subbasin 13 outlet', fontsize=23.4, va='center')

# ---- b ----
ax, ax2 = make_panel(rect(121, 667, 1822, 1092), (-1.2, 0.6), 0.2, None, (0, 25), 5)
fb_t, fb_v = pairs(flow_b)
draw(ax, ax2, drink_b, irr_b, both_b, fb_t, fb_v)
ax.set_ylabel(ylab, fontsize=23.5)
ax.yaxis.set_label_coords(-0.05, 0.5)
ax2.set_ylabel(ylab2, fontsize=23)
ax2.yaxis.set_label_coords(1.048, 0.5)
ax2.text(0.578, 0.895, '(1.54 m$^3$ s$^{-1}$)', transform=ax2.transAxes, ha='center', va='center', fontsize=23)
fig.text(137 / W, 1 - 645 / H, r'$\mathbf{b}$ SWAT-MODFLOW Station A - subbasin 13 outlet', fontsize=23.1, va='center')

# ---- c ----
ax, ax2 = make_panel(rect(115, 1262, 1828, 1672), (-1, 1), 0.5, 0.25, (0, 70), 10)
fc_t, fc_v = pairs(flow_c)
draw(ax, ax2, drink_c, irr_c, both_c, fc_t, fc_v)
ax.set_ylabel(ylab, fontsize=23)
ax.yaxis.set_label_coords(-0.046, 0.5)
ax2.set_ylabel(ylab2, fontsize=23)
ax2.yaxis.set_label_coords(1.046, 0.5)
fig.text(143 / W, 1 - 1241 / H, r'$\mathbf{c}$ SWAT Station B - subbasin 18 outlet', fontsize=22.8, va='center')

axi = fig.add_axes(rect(1061, 1263, 1601, 1346))
axi.set_facecolor('white')
slots = np.arange(len(inset_days)) + 0.5
axi.set_xlim(0, len(inset_days))
axi.set_ylim(-6, 4)
axi.set_yticks([4, -1, -6])
axi.set_yticklabels(['4', '-1', '-6'])
# tick marks between days, date labels centred on every third day
axi.xaxis.set_major_locator(FixedLocator(np.arange(len(inset_days) + 1)))
axi.xaxis.set_major_formatter(NullFormatter())
axi.xaxis.set_minor_locator(FixedLocator(slots[::3]))
axi.set_xticklabels(inset_days[::3], minor=True)
axi.grid(axis='y', color=GRID, lw=2)
axi.set_axisbelow(True)
axi.tick_params(axis='both', which='major', direction='out', width=1.6, length=7)
axi.tick_params(axis='x', which='minor', length=0, labelsize=22.5, pad=12)
axi.tick_params(axis='y', labelsize=22, labelfontfamily=SANS, pad=3)
for s in axi.spines.values():
    s.set_linewidth(1.4)
axi.plot(slots, inset_drink, color=C_DRINK, lw=1.3)
axi.plot(slots, inset_irr, color=C_IRR, lw=1.8)
axi.plot(slots, inset_irr, color=C_BOTH, lw=1.8, ls=(0, (1.6, 1.0)))
fig.text(1050 / W, 1 - 1240 / H, 'Extrem high flow period', fontsize=22, va='center')

# ---- d ----
ax, ax2 = make_panel(rect(115, 1872, 1831, 2334), (-1, 1), 0.5, 0.25, (0, 70), 10, sans=True)
fd_t, fd_v = pairs(flow_d)
draw(ax, ax2, drink_d, irr_d, both_d, fd_t, fd_v)
ax.set_ylabel(ylab, fontsize=23)
ax.yaxis.set_label_coords(-0.048, 0.5)
ax2.set_ylabel('Streamflwo (m$^3$ s$^{-1}$)', fontsize=23)
ax2.yaxis.set_label_coords(1.055, 0.5)
fig.text(149 / W, 1 - 1825 / H, r'$\mathbf{d}$ SWAT-MODFLOW Station B - subbasin 18 outlet', fontsize=25.6, va='center')

fig.savefig('out.png', dpi=100)
